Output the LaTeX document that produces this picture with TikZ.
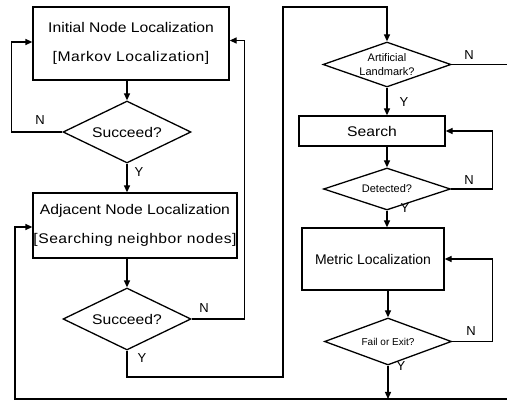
\documentclass[tikz,border=0pt]{standalone}
\usepackage{fontspec}
\setmainfont{Liberation Sans}
\newfontfamily\widefont[FakeStretch=1.12]{Liberation Sans}
\newfontfamily\spacedfont[FakeStretch=1.12,LetterSpace=3.5]{Liberation Sans}
\usetikzlibrary{shapes.geometric,arrows.meta}
\begin{document}
\begin{tikzpicture}[x=1pt,y=-1pt,
  line width=1.3pt,
  arr/.style={-{Triangle[length=7pt,width=6pt]}},
  procbox/.style={draw,rectangle,inner sep=0pt,align=center},
  decision/.style={draw,diamond,inner sep=0pt,align=center,aspect=2},
  bigtext/.style={font=\widefont\fontsize{14}{29}\selectfont},
  smalltext/.style={font=\fontsize{11}{14}\selectfont},
  lbl/.style={font=\fontsize{13}{13}\selectfont,inner sep=0pt}]
\useasboundingbox (0,0) rectangle (507,401);

% left column
\node[procbox,bigtext,minimum width=196pt,minimum height=73pt] (init) at (131,43.5)
  {Initial Node Localization\\{\spacedfont [Markov Localization]}};
\node[decision,font=\widefont\fontsize{14}{14}\selectfont,minimum width=128pt,minimum height=62pt] (d1) at (127,132) {Succeed?};
\node[procbox,bigtext,minimum width=204pt,minimum height=65pt] (adj) at (135,225.5)
  {Adjacent Node Localization\\{\spacedfont [Searching neighbor nodes]}};
\node[decision,font=\widefont\fontsize{14}{14}\selectfont,minimum width=128pt,minimum height=62pt] (d2) at (127,319) {Succeed?};

% right column
\node[decision,smalltext,aspect=2.8,minimum width=128pt,minimum height=45pt] (d3) at (387,64.5) {Artificial\\Landmark?};
\node[procbox,bigtext,minimum width=146pt,minimum height=30pt] (search) at (372,131) {Search};
\node[decision,smalltext,aspect=3,minimum width=127pt,minimum height=42pt] (d4) at (387,189) {Detected?};
\node[procbox,font=\fontsize{14}{14}\selectfont,minimum width=142pt,minimum height=62pt] (metric) at (373,259) {Metric Localization};
\node[decision,font=\fontsize{10}{10}\selectfont,aspect=2.7,minimum width=127pt,minimum height=47pt] (d5) at (388,341.5) {Fail or Exit?};

% corner points of the long connectors
\coordinate (c1) at (283,377);
\coordinate (c2) at (283,7);
\coordinate (b1) at (15,399);
\coordinate (b2) at (507,399);
\coordinate (n3) at (507,64.5);

% left column connectors
\draw[arr] (init.south -| d1.north) -- (d1.north);
\draw[arr] (d1.west) -- ++(-51,0) |- ([yshift=1.5pt]init.west);
\draw[arr] (d1.south) -- (d1.south |- adj.north);
\draw[arr] (adj.south -| d2.north) -- (d2.north);
\draw[arr] (d2.east) -- ++(53,0) |- ([yshift=3pt]init.east);
\draw[arr] (d2.south) |- (c1) -- (c2) -| (d3.north);
\draw[arr] (b2) -- (b1) |- ([yshift=-1.5pt]adj.west);

% right column connectors
\draw (d3.east) -- (n3);
\draw[arr] (d3.south) -- (d3.south |- search.north);
\draw[arr] (search.south -| d4.north) -- (d4.north);
\draw[arr] (d4.east) -- ++(41,0) |- (search.east);
\draw[arr] (d4.south) -- (d4.south |- metric.north);
\draw[arr] (metric.south -| d5.north) -- (d5.north);
\draw[arr] (d5.east) -- ++(40,0) |- (metric.east);
\draw[arr] (d5.south) -- (d5.south |- b2);

% branch labels
\node[lbl] at (40,120) {N};
\node[lbl] at (139,172) {Y};
\node[lbl] at (204,308) {N};
\node[lbl] at (142,358) {Y};
\node[lbl] at (469,55) {N};
\node[lbl] at (404,102) {Y};
\node[lbl] at (469,180) {N};
\node[lbl] at (405,208) {Y};
\node[lbl] at (471,331) {N};
\node[lbl] at (401,366) {Y};
\end{tikzpicture}
\end{document}
